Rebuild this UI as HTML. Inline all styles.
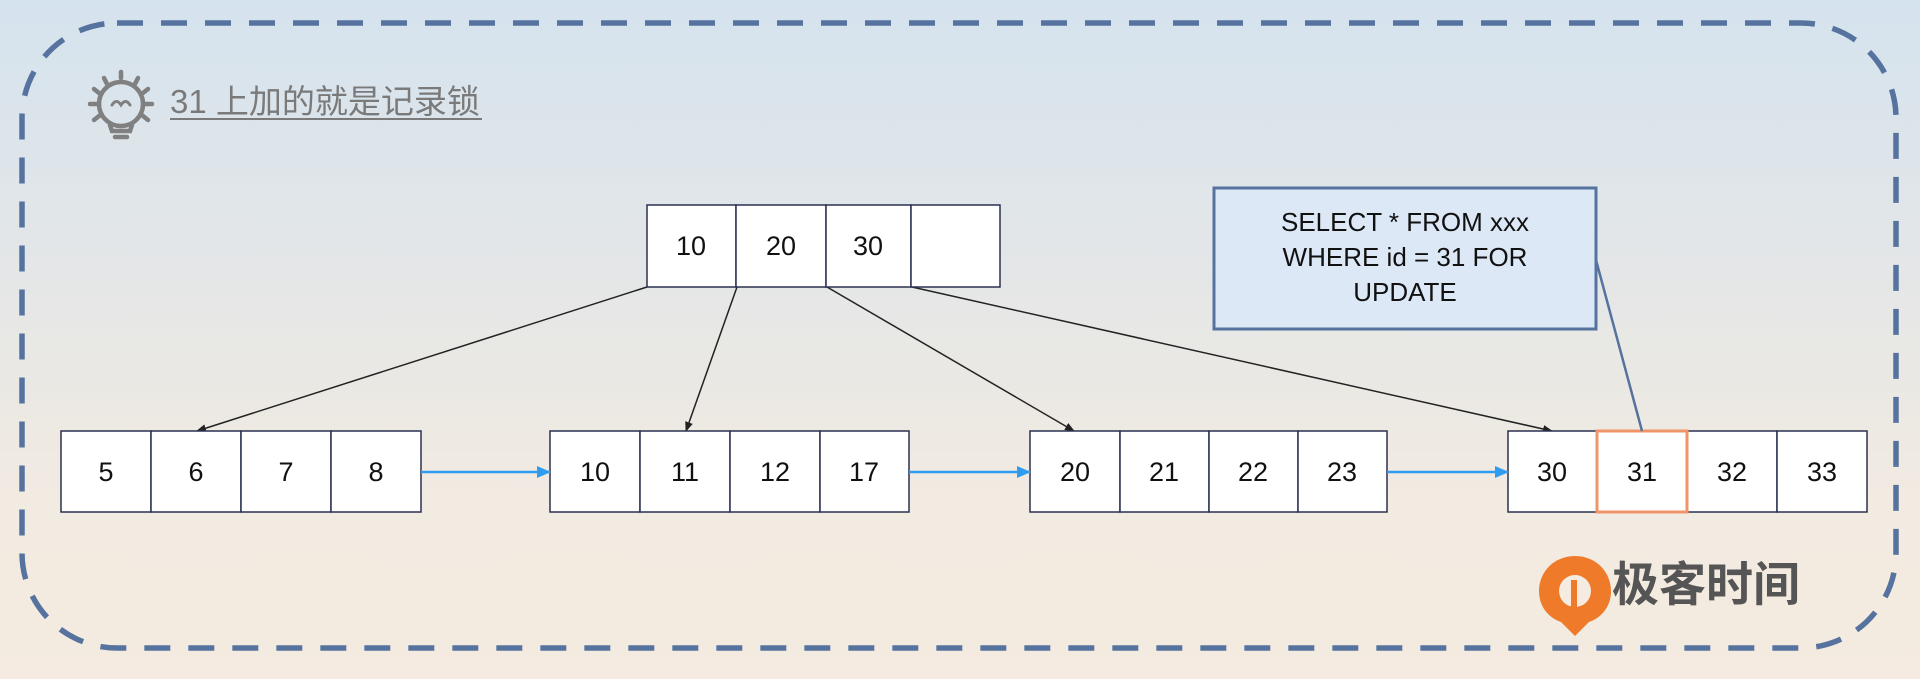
<!DOCTYPE html>
<html><head><meta charset="utf-8"><style>
html,body{margin:0;padding:0;}
body{width:1920px;height:679px;overflow:hidden;background:linear-gradient(180deg,#d5e3ee 0%,#e6e7e6 45%,#f2ebe1 75%,#f5ebe0 100%);font-family:"Liberation Sans","Noto Sans CJK SC",sans-serif;}
</style></head><body>
<svg width="1920" height="679" viewBox="0 0 1920 679" xmlns="http://www.w3.org/2000/svg" style="position:absolute;left:0;top:0">
<defs>
<marker id="ab" markerWidth="10" markerHeight="8" refX="9" refY="4" orient="auto" markerUnits="userSpaceOnUse"><path d="M0,0 L10,4 L0,8 z" fill="#222"/></marker>
<marker id="bl" markerWidth="14" markerHeight="12" refX="13" refY="6" orient="auto" markerUnits="userSpaceOnUse"><path d="M0,0 L14,6 L0,12 z" fill="#2f9cf0"/></marker>
</defs>
<rect x="22" y="23" width="1874" height="625" rx="95" ry="95" fill="none" stroke="#56739f" stroke-width="5.5" stroke-dasharray="26 18"/>
<!-- bulb icon -->
<g stroke="#808080" stroke-width="4.5" fill="none" stroke-linecap="round">
<circle cx="121" cy="104" r="22"/>
<path d="M110,125 L112,131 L130,131 L132,125"/>
<path d="M115,137 L127,137"/>
<path d="M112,105 q4.5,-7 9,0 q4.5,-7 9,0" stroke-width="3"/>
<line x1="121" y1="72" x2="121" y2="78"/><line x1="104" y1="78" x2="107" y2="84"/><line x1="138" y1="78" x2="135" y2="84"/>
<line x1="90" y1="104" x2="96" y2="104"/><line x1="146" y1="104" x2="152" y2="104"/>
<line x1="94" y1="89" x2="99" y2="93"/><line x1="148" y1="89" x2="143" y2="93"/>
<line x1="94" y1="120" x2="99" y2="116"/><line x1="148" y1="120" x2="143" y2="116"/>
</g>
<text x="170" y="113" font-size="33" fill="#7a7a7a" font-family="Liberation Sans, Noto Sans CJK SC, sans-serif">31 上加的就是记录锁</text>
<line x1="170" y1="119" x2="482" y2="119" stroke="#7a7a7a" stroke-width="2"/>
<!-- black arrows -->
<g stroke="#222" stroke-width="1.5" fill="none" marker-end="url(#ab)">
<line x1="647" y1="287" x2="197" y2="431"/>
<line x1="737" y1="287" x2="686" y2="431"/>
<line x1="827" y1="287" x2="1074" y2="431"/>
<line x1="912" y1="287" x2="1552" y2="431"/>
</g>
<!-- top node -->
<g stroke="#2a3150" stroke-width="1.5" fill="#fff">
<rect x="647" y="205" width="89" height="82"/><rect x="736" y="205" width="90" height="82"/><rect x="826" y="205" width="85" height="82"/><rect x="911" y="205" width="89" height="82"/>
</g>
<g font-size="27" fill="#111" text-anchor="middle" font-family="Liberation Sans, sans-serif">
<text x="691" y="255">10</text><text x="781" y="255">20</text><text x="868" y="255">30</text>
</g>
<!-- leaf nodes -->
<g stroke="#2a3150" stroke-width="1.5" fill="#fff">
<rect x="61" y="431" width="90" height="81"/><rect x="151" y="431" width="90" height="81"/><rect x="241" y="431" width="90" height="81"/><rect x="331" y="431" width="90" height="81"/>
<rect x="550" y="431" width="90" height="81"/><rect x="640" y="431" width="90" height="81"/><rect x="730" y="431" width="90" height="81"/><rect x="820" y="431" width="89" height="81"/>
<rect x="1030" y="431" width="90" height="81"/><rect x="1120" y="431" width="89" height="81"/><rect x="1209" y="431" width="89" height="81"/><rect x="1298" y="431" width="89" height="81"/>
<rect x="1508" y="431" width="89" height="81"/><rect x="1597" y="431" width="90" height="81"/><rect x="1687" y="431" width="90" height="81"/><rect x="1777" y="431" width="90" height="81"/>
</g>
<rect x="1597" y="431" width="90" height="81" fill="none" stroke="#f0956a" stroke-width="3"/>
<g font-size="27" fill="#111" text-anchor="middle" font-family="Liberation Sans, sans-serif">
<text x="106" y="481">5</text><text x="196" y="481">6</text><text x="286" y="481">7</text><text x="376" y="481">8</text>
<text x="595" y="481">10</text><text x="685" y="481">11</text><text x="775" y="481">12</text><text x="864" y="481">17</text>
<text x="1075" y="481">20</text><text x="1164" y="481">21</text><text x="1253" y="481">22</text><text x="1342" y="481">23</text>
<text x="1552" y="481">30</text><text x="1642" y="481">31</text><text x="1732" y="481">32</text><text x="1822" y="481">33</text>
</g>
<!-- blue arrows -->
<g stroke="#2f9cf0" stroke-width="2.5" marker-end="url(#bl)">
<line x1="421" y1="472" x2="550" y2="472"/>
<line x1="909" y1="472" x2="1030" y2="472"/>
<line x1="1387" y1="472" x2="1508" y2="472"/>
</g>
<!-- callout -->
<line x1="1596" y1="260" x2="1642" y2="431" stroke="#56739f" stroke-width="2.5"/>
<rect x="1214" y="188" width="382" height="141" fill="#dce8f5" stroke="#56739f" stroke-width="3"/>
<g font-size="26" fill="#111" text-anchor="middle" font-family="Liberation Sans, sans-serif">
<text x="1405" y="231">SELECT * FROM xxx</text>
<text x="1405" y="266">WHERE id = 31 FOR</text>
<text x="1405" y="301">UPDATE</text>
</g>
<!-- logo -->
<g>
<path d="M1575,556 c-22,0 -36,17 -36,35 c0,16 10,27 22,31 l14,14 l14,-14 c12,-4 22,-15 22,-31 c0,-18 -14,-35 -36,-35z" fill="#ee7a2a"/>
<circle cx="1575" cy="591" r="16" fill="#f5ebe0"/>
<path d="M1571,580 l6,0 l0,32 l-6,0z" fill="#ee7a2a"/>
</g>
<text x="1612" y="601" font-size="47" font-weight="bold" fill="#555" font-family="Noto Sans CJK SC, sans-serif">极客时间</text>
</svg>
</body></html>
